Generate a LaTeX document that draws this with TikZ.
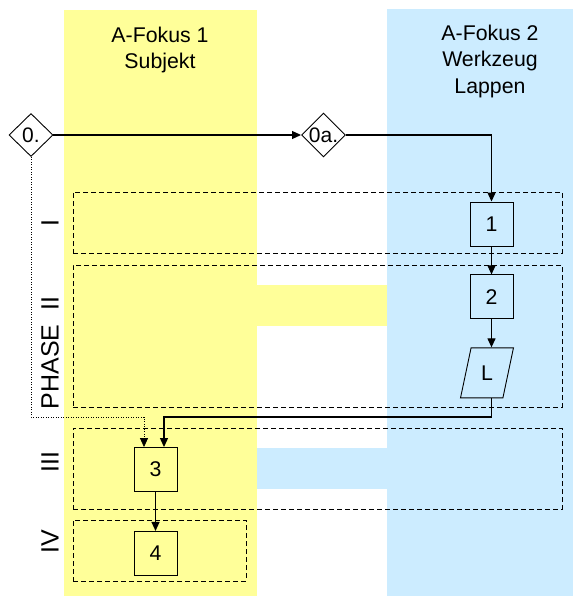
\documentclass[tikz,border=0pt]{standalone}
\usepackage{fontspec}
\setmainfont{Liberation Sans}
\usetikzlibrary{arrows.meta,positioning,calc,shapes.geometric}
\definecolor{lanea}{HTML}{FFFF99}
\definecolor{laneb}{HTML}{CCECFF}
\tikzset{box/.style={draw,line width=0.9pt,minimum width=43pt,minimum height=44pt,
  inner sep=0pt,font=\fontsize{21.3}{26}\selectfont},
  dec/.style={diamond,draw,line width=0.9pt,minimum width=44pt,minimum height=43pt,
  inner sep=0pt,font=\fontsize{21}{26}\selectfont},
  phasebox/.style={draw,dash pattern=on 5pt off 3pt,line width=0.9pt,inner sep=0pt},
  head/.style={align=center,font=\fontsize{21.3}{26.5}\selectfont},
  plabel/.style={rotate=90,inner sep=0pt,font=\fontsize{25}{30}\selectfont},
  arrow/.style={-{Triangle[length=9pt,width=8pt]},line width=1.2pt}}
\begin{document}
\begin{tikzpicture}[x=1pt,y=-1pt]
\useasboundingbox (0,0) rectangle (573,596);
\fill[lanea] (64,10) rectangle (257,596);
\fill[laneb] (387,9) rectangle (573,596);
\fill[lanea] (257,285) rectangle (387,326);
\fill[laneb] (257,448) rectangle (387,489);
\node[head] (foca) at (160,50) {A-Fokus 1\\Subjekt};
\node[head] (focb) at (490,61) {A-Fokus 2\\Werkzeug\\Lappen};
\node[phasebox,minimum width=489pt,minimum height=61pt] (ph1) at (317.5,222.5) {};
\node[phasebox,minimum width=489pt,minimum height=142pt] (ph2) at (317.5,336) {};
\node[phasebox,minimum width=489pt,minimum height=81pt] (ph3) at (317.5,468.5) {};
\node[phasebox,minimum width=173pt,minimum height=61pt] (ph4) at (159.5,550.5) {};
\node[plabel] (lab1) at (50,223) {I};
\node[plabel] (lab2) at (50,353) {PHASE\ \ II};
\node[plabel] (lab3) at (50,462) {III};
\node[plabel] (lab4) at (50,542) {IV};
\node[dec] (d0) at (31,135) {0.};
\node[dec] (d0a) at (323.5,135) {0a.};
\node[box] (s1) at (491.5,224) {1};
\node[box,below=28pt of s1] (s2) {2};
\node[trapezium,trapezium left angle=75,trapezium right angle=105,trapezium stretches=true,
  draw,line width=0.9pt,inner sep=0pt,minimum width=53pt,minimum height=50pt,
  font=\fontsize{21.3}{26}\selectfont,below=28pt of s2,xshift=-4.5pt] (lap) {L};
\node[box] (s3) at (155.5,469.5) {3};
\node[box,below=39pt of s3] (s4) {4};
\coordinate (turn) at (491.5,417);
\draw[arrow] (d0.east) -- (d0a.west);
\draw[arrow] (d0a.east) -| (s1.north);
\draw[arrow] (s1) -- (s2);
\draw[arrow] (s2.south) -- (s2.south |- lap.north);
\draw[arrow] (s2.south |- lap.south) -- (turn) -| ([xshift=8.5pt]s3.north);
\draw[arrow,line width=0.8pt,dash pattern=on 1pt off 1.5pt] (d0.south) |- ([xshift=-11.5pt]s3.north |- turn)
  -- ([xshift=-11.5pt]s3.north);
\draw[arrow] (s3) -- (s4);
\end{tikzpicture}
\end{document}
